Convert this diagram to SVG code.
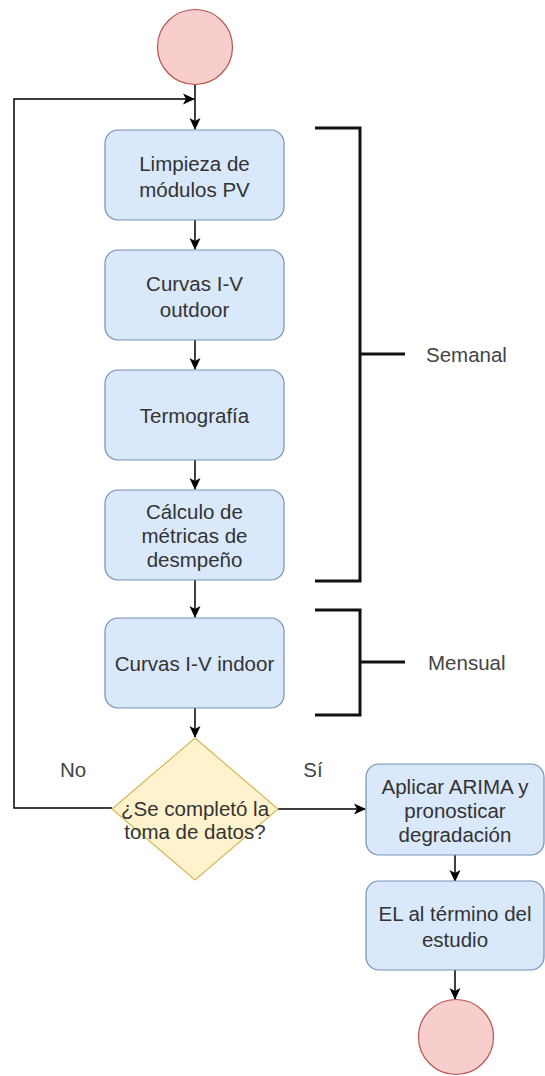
<svg xmlns="http://www.w3.org/2000/svg" width="545" height="1076" viewBox="0 0 545 1076">
<style>
.box{fill:#dae8fc;stroke:#7590b8;stroke-width:1.2}
.dia{fill:#fff2cc;stroke:#d6b656;stroke-width:1.2}
.term{fill:#f8cecc;stroke:#b85450;stroke-width:1.2}
.t{font-family:"Liberation Sans",Arial,sans-serif;font-size:20.5px;fill:#333333;text-anchor:middle;dominant-baseline:central}
.lbl{font-family:"Liberation Sans",Arial,sans-serif;font-size:20.5px;fill:#444444;dominant-baseline:central}
.edge{fill:none;stroke:#000;stroke-width:1.5}
.brk{fill:none;stroke:#111;stroke-width:3}
</style>
<defs>
<marker id="arr" viewBox="0 0 12 12" refX="11" refY="6" markerWidth="12" markerHeight="12" markerUnits="userSpaceOnUse" orient="auto">
<path d="M0,0.5 L12,6 L0,11.5 L3,6 Z" fill="#000"/>
</marker>
</defs>
<g id="connectors">
<path class="edge" d="M195,85 V129" marker-end="url(#arr)"/>
<path class="edge" d="M112,808 H14 V99 H194" marker-end="url(#arr)"/>
<path class="edge" d="M195,220 V249" marker-end="url(#arr)"/>
<path class="edge" d="M195,340 V369" marker-end="url(#arr)"/>
<path class="edge" d="M195,460 V489" marker-end="url(#arr)"/>
<path class="edge" d="M195,580 V617" marker-end="url(#arr)"/>
<path class="edge" d="M195,708 V737" marker-end="url(#arr)"/>
<path class="edge" d="M278,809 H365" marker-end="url(#arr)"/>
<path class="edge" d="M455,855 V881" marker-end="url(#arr)"/>
<path class="edge" d="M455,970 V999" marker-end="url(#arr)"/>
</g>
<g id="start"><circle class="term" cx="195" cy="47" r="37.5"/></g>
<g id="limpieza"><rect class="box" x="105" y="130" width="179" height="90" rx="13"/>
<text class="t" x="194.5" y="163">Limpieza de</text><text class="t" x="194.5" y="189">módulos PV</text></g>
<g id="curvas-outdoor"><rect class="box" x="105" y="250" width="179" height="90" rx="13"/>
<text class="t" x="194.5" y="283">Curvas I-V</text><text class="t" x="194.5" y="309">outdoor</text></g>
<g id="termografia"><rect class="box" x="105" y="370" width="179" height="90" rx="13"/>
<text class="t" x="194.5" y="415">Termografía</text></g>
<g id="calculo"><rect class="box" x="105" y="490" width="179" height="90" rx="13"/>
<text class="t" x="194.5" y="511">Cálculo de</text><text class="t" x="194.5" y="535">métricas de</text><text class="t" x="194.5" y="559">desmpeño</text></g>
<g id="curvas-indoor"><rect class="box" x="105" y="618" width="179" height="90" rx="13"/>
<text class="t" x="194.5" y="663">Curvas I-V indoor</text></g>
<g id="decision"><path class="dia" d="M195,738 L278,809 L195,880 L112,809 Z"/>
<text class="t" x="195" y="808">¿Se completó la</text><text class="t" x="195" y="831">toma de datos?</text></g>
<g id="arima"><rect class="box" x="366" y="764" width="178" height="91" rx="13"/>
<text class="t" x="455" y="786">Aplicar ARIMA y</text><text class="t" x="455" y="810">pronosticar</text><text class="t" x="455" y="834">degradación</text></g>
<g id="el"><rect class="box" x="366" y="881" width="178" height="89" rx="13"/>
<text class="t" x="455" y="913">EL al término del</text><text class="t" x="455" y="939">estudio</text></g>
<g id="end"><circle class="term" cx="456" cy="1037" r="37.5"/></g>
<g id="labels">
<text class="lbl" x="73" y="769" text-anchor="middle">No</text>
<text class="lbl" x="313" y="769" text-anchor="middle">Sí</text>
</g>
<g id="semanal"><path class="brk" d="M315,128 H360 V581 H315 M360,354 H405"/>
<text class="lbl" x="426" y="354">Semanal</text></g>
<g id="mensual"><path class="brk" d="M315,610 H360 V715 H315 M360,662 H405"/>
<text class="lbl" x="428" y="662">Mensual</text></g>
</svg>
